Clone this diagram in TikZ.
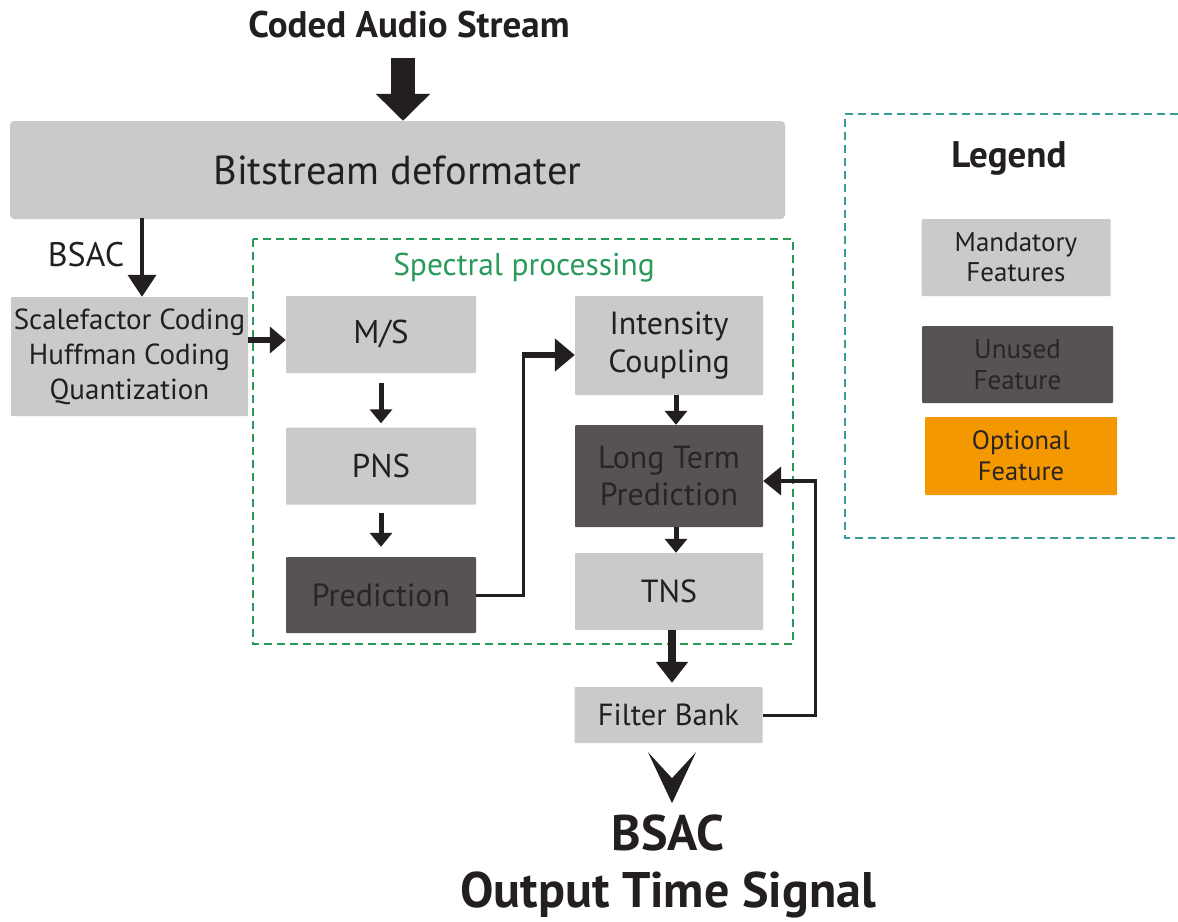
\documentclass[tikz,border=0pt]{standalone}
\usepackage{fontspec}
\setmainfont{PT Sans}
\usetikzlibrary{arrows.meta,calc}
\definecolor{lgray}{HTML}{CACACA}
\definecolor{dgray}{HTML}{575353}
\definecolor{txt}{HTML}{231F20}
\definecolor{dtxt}{HTML}{2A2424}
\definecolor{orng}{HTML}{F39800}
\definecolor{sgreen}{HTML}{2A9A5C}
\definecolor{lteal}{HTML}{3A9C98}
\newcommand{\fsz}[2]{\fontsize{#1}{#2}\selectfont}
\begin{document}
\begin{tikzpicture}[x=1pt,y=-1pt,
  boxsz/.style n args={2}{minimum width=#1pt, minimum height=#2pt},
  mand/.style={fill=lgray, text=txt, inner sep=0pt, align=center, rounded corners=1pt},
  unus/.style={fill=dgray, text=dtxt, inner sep=0pt, align=center, rounded corners=1pt},
  optl/.style={fill=orng, text=dtxt, inner sep=0pt, align=center, rounded corners=1pt},
  arrsmall/.style={draw=txt, line width=5pt, -{Triangle[length=14pt,width=22pt]}},
  arrmid/.style={draw=txt, line width=6pt, -{Triangle[length=16pt,width=26pt]}},
  arrbig/.style={draw=txt, line width=8pt, -{Triangle[length=21pt,width=31pt]}},
  arrthin/.style={draw=txt, line width=4pt, -{Triangle[length=22pt,width=28pt]}},
  lineconn/.style={draw=txt, line width=3pt},
  lbl/.style={text=txt, inner sep=0pt},
  dashframe/.style={line width=2.8pt, dash pattern=on 8pt off 5pt},
]
\useasboundingbox (0,0) rectangle (1178,921);
\fill[white] (0,0) rectangle (1178,921);

% titles
\node[lbl, font=\fsz{37}{42}\bfseries] (title) at (409,25) {Coded Audio Stream};
\node[lbl, font=\fsz{50}{57}\bfseries, align=center] (out) at (668,866) {BSAC\\Output Time Signal};

% dashed frames
\draw[sgreen, dashframe] (253,239) rectangle (793,644);
\node[text=sgreen, inner sep=0pt, font=\fsz{31.5}{36}] (spec) at (524,268) {Spectral processing};
\draw[lteal, dashframe] (1178,114) -- (845,114) -- (845,538) -- (1178,538);
\node[lbl, font=\fsz{37}{42}\bfseries] (leg) at (1009,158) {Legend};

% main boxes
\node[mand, boxsz={775}{98}, rounded corners=4pt, font=\fsz{40.5}{46}] (bd) at (397.5,170) {Bitstream deformater};
\node[mand, boxsz={237}{119}, font=\fsz{29}{35}] (sq) at (129.5,356.5) {Scalefactor Coding\\Huffman Coding\\Quantization};
\node[mand, boxsz={190}{77}, font=\fsz{33}{38}] (ms) at (381,334.5) {M/S};
\node[mand, boxsz={190}{77}, font=\fsz{33}{38}] (pns) at (381,466) {PNS};
\node[unus, boxsz={190}{76}, font=\fsz{32}{38}] (pred) at (381,595) {Prediction};
\node[mand, boxsz={188}{99}, font=\fsz{32}{38}] (ic) at (669,345.5) {Intensity\\Coupling};
\node[unus, boxsz={188}{102}, font=\fsz{32}{37}] (ltp) at (669,476) {Long Term\\Prediction};
\node[mand, boxsz={188}{77}, font=\fsz{32}{38}] (tns) at (669,591.5) {TNS};
\node[mand, boxsz={188}{56}, font=\fsz{30.5}{34}] (fb) at (668.5,715) {Filter Bank};

% legend boxes
\node[mand, boxsz={189}{77}, font=\fsz{27}{30}] (lman) at (1016,257.5) {Mandatory\\Features};
\node[unus, boxsz={191}{77}, font=\fsz{27}{31}] (lunu) at (1017.5,364.5) {Unused\\Feature};
\node[optl, boxsz={192}{78}, font=\fsz{26.5}{31}] (lopt) at (1021,456) {Optional\\Feature};

% top big arrow
\coordinate (a0) at (403,58);
\draw[draw=txt, line width=24pt, -{Triangle[length=27pt,width=53pt]}] (a0) -- (a0 |- bd.north);

% BSAC arrow
\coordinate (b0) at (142,218);
\draw[arrthin] (b0) -- (b0 |- sq.north);
\node[lbl, font=\fsz{34}{38}] (bsac) at (86,255) {BSAC};

% sq -> ms
\coordinate (c0) at (248,340);
\draw[arrmid] (c0) -- (ms.west |- c0);

% left column
\draw[arrsmall] (ms.south) ++(0,10) coordinate (m1) (m1) -- ($(pns.north)+(0,-4)$);
\draw[arrsmall] (pns.south) ++(0,8) coordinate (p1) (p1) -- ($(pred.north)+(0,-10)$);

% prediction -> intensity
\coordinate (k1) at (523,355);
\draw[lineconn] (pred.east) -| (k1);
\draw[draw=txt, line width=6pt, -{Triangle[length=20pt,width=32pt]}] ($(k1)+(-1.5,0)$) -- (ic.west |- k1);

% right column
\coordinate (r1) at ($(ic.south)+(7,0)$);
\draw[arrsmall] (r1) -- (r1 |- ltp.north);
\coordinate (r2) at ($(ltp.south)+(7,0)$);
\draw[arrsmall] (r2) -- (r2 |- tns.north);
\coordinate (r3) at ($(tns.south)+(3,0)$);
\draw[arrbig] (r3) -- ($(r3 |- fb.north)+(0,-4)$);

% feedback
\coordinate (f1) at (815,481);
\draw[lineconn] (fb.east) -| (f1);
\draw[draw=txt, line width=4pt, -{Triangle[length=18pt,width=28pt]}] ($(f1)+(1.5,0)$) -- (ltp.east |- f1);

% output chevron
\coordinate (o0) at ($(fb.south)+(3.5,9)$);
\fill[txt] (o0) ++(-24,0) -- ($(o0)+(0,51)$) -- ($(o0)+(24,0)$) -- ($(o0)+(0,26)$) -- cycle;
\end{tikzpicture}
\end{document}
